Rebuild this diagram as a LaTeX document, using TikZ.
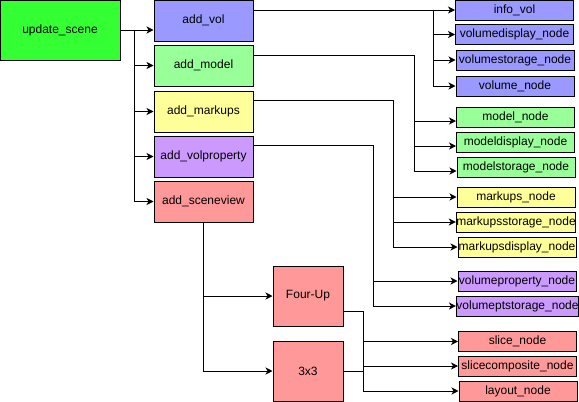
\documentclass[tikz,border=0pt]{standalone}
\usepackage{fontspec}
\setmainfont{Liberation Sans}
\usetikzlibrary{arrows.meta}
\definecolor{scenegreen}{HTML}{33FF33}
\definecolor{volblue}{HTML}{9999FF}
\definecolor{modelgreen}{HTML}{99FF99}
\definecolor{markupsyellow}{HTML}{FFFF99}
\definecolor{proppurple}{HTML}{CC99FF}
\definecolor{viewred}{HTML}{FF9999}
\tikzset{
  box/.style={draw, line width=1pt, inner sep=0pt, font=\fontsize{12}{14}\selectfont},
  addbox/.style={box, minimum width=99pt, minimum height=41pt},
  leafbox/.style={box, minimum width=118pt, minimum height=20pt},
  link/.style={line width=0.9pt}
}
\begin{document}
\begin{tikzpicture}[x=1pt, y=-1pt, >={Stealth[length=7pt,width=7pt,inset=2pt]}]
		\useasboundingbox (0,0) rectangle (579,402);
		%Radice
		\node [box, fill=scenegreen, minimum width=120pt, minimum height=60pt] (update) at (60,30) {update\_scene};
		%Funzioni add
		\node [addbox, fill=volblue] (addvol) at (203.5,20.5) {add\_vol};
		\node [addbox, fill=modelgreen] (addmodel) at (203.5,65.5) {add\_model};
		\node [addbox, fill=markupsyellow] (addmarkups) at (203.5,111.5) {add\_markups};
		\node [addbox, fill=proppurple] (addvolprop) at (203.5,156.5) {add\_volproperty};
		\node [addbox, fill=viewred] (addscene) at (203.5,201.5) {add\_sceneview};
		%Layout
		\node [box, fill=viewred, minimum width=70pt, minimum height=60pt] (fourup) at (308,296) {Four-Up};
		\node [box, fill=viewred, minimum width=70pt, minimum height=60pt] (threeby) at (308,371) {3x3};
		%Nodi volume
		\node [leafbox, fill=volblue] (infovol) at (514.5,10) {info\_vol};
		\node [leafbox, fill=volblue] (voldisp) at (514.5,34.5) {volumedisplay\_node};
		\node [leafbox, fill=volblue] (volstor) at (515,60) {volumestorage\_node};
		\node [leafbox, fill=volblue] (volnode) at (515,86) {volume\_node};
		%Nodi modello
		\node [leafbox, fill=modelgreen] (modelnode) at (515.5,117) {model\_node};
		\node [leafbox, fill=modelgreen] (modeldisp) at (515.5,142) {modeldisplay\_node};
		\node [leafbox, fill=modelgreen] (modelstor) at (516,167) {modelstorage\_node};
		%Nodi markups
		\node [leafbox, fill=markupsyellow] (markupsnode) at (516,197) {markups\_node};
		\node [leafbox, fill=markupsyellow] (markupsstor) at (516,222) {markupsstorage\_node};
		\node [leafbox, fill=markupsyellow] (markupsdisp) at (517,247) {markupsdisplay\_node};
		%Nodi proprieta
		\node [leafbox, fill=proppurple] (volpropnode) at (517,281) {volumeproperty\_node};
		\node [leafbox, fill=proppurple] (volptstor) at (517.5,306) {volumeptstorage\_node};
		%Nodi vista
		\node [leafbox, fill=viewred] (slicenode) at (517.5,341.5) {slice\_node};
		\node [leafbox, fill=viewred] (slicecomp) at (517.5,366) {slicecomposite\_node};
		\node [leafbox, fill=viewred] (layoutnode) at (518,391) {layout\_node};
		%Tronco principale
		\coordinate (trunk) at (134,30);
		\draw [link, ->] (update.east) -- (addvol.west |- update.east);
		\draw [link, ->] (trunk) |- (addmodel.west);
		\draw [link, ->] (trunk) |- (addmarkups.west);
		\draw [link, ->] (trunk) |- (addvolprop.west);
		\draw [link, ->] (trunk) |- (addscene.west);
		%Volume
		\coordinate (volfork) at (433,10);
		\draw [link, ->] (addvol.east |- infovol.west) -- (infovol.west);
		\draw [link, ->] (volfork) |- (voldisp.west);
		\draw [link, ->] (volfork) |- (volstor.west);
		\draw [link, ->] (volfork) |- (volnode.west);
		%Modello
		\coordinate (modelfork) at (414,55);
		\draw [link] (addmodel.east |- modelfork) -- (modelfork);
		\draw [link, ->] (modelfork) |- ([yshift=-4pt]modelnode.west);
		\draw [link, ->] (modelfork) |- ([yshift=-4pt]modeldisp.west);
		\draw [link, ->] (modelfork) |- ([yshift=-4pt]modelstor.west);
		%Markups
		\coordinate (markupsfork) at (393,100);
		\draw [link] (addmarkups.east |- markupsfork) -- (markupsfork);
		\draw [link, ->] (markupsfork) |- (markupsnode.west);
		\draw [link, ->] (markupsfork) |- (markupsstor.west);
		\draw [link, ->] (markupsfork) |- (markupsdisp.west);
		%Proprieta
		\coordinate (propfork) at (373,145);
		\draw [link] (addvolprop.east |- propfork) -- (propfork);
		\draw [link, ->] (propfork) |- (volpropnode.west);
		\draw [link, ->] (propfork) |- (volptstor.west);
		%Vista
		\draw [link, ->] (addscene.south) |- (fourup.west);
		\draw [link, ->] (addscene.south) |- (threeby.west);
		\coordinate (viewfork) at (363,311);
		\draw [link] (fourup.east |- viewfork) -- (viewfork);
		\draw [link] (threeby.east) -- (threeby.east -| viewfork);
		\draw [link, ->] (viewfork) |- (slicenode.west);
		\draw [link, ->] (viewfork) |- (slicecomp.west);
		\draw [link, ->] (viewfork) |- (layoutnode.west);
	\end{tikzpicture}
\end{document}
